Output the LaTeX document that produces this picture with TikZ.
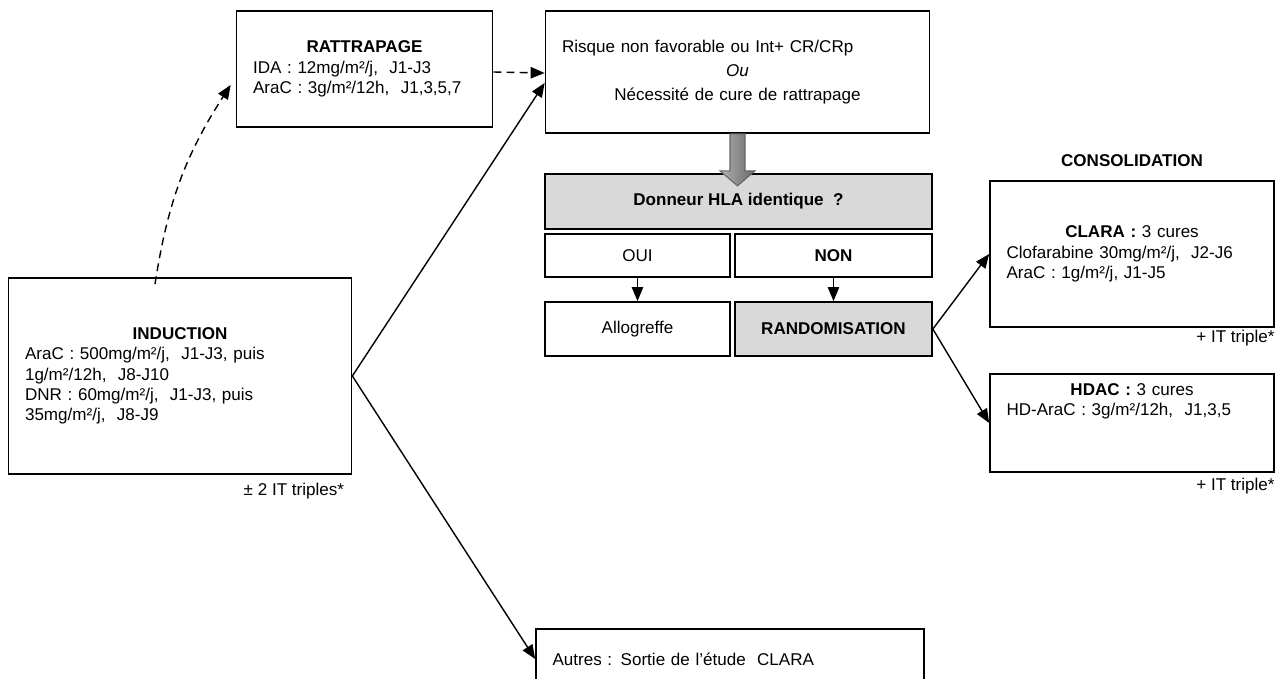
\documentclass[tikz,border=0pt]{standalone}
\usepackage{fontspec}
\setmainfont{Liberation Sans}
\usetikzlibrary{positioning}
\usetikzlibrary{calc}
\usetikzlibrary{arrows.meta}

\tikzset{
  box/.style={draw, line width=1pt, inner sep=0pt, font=\fontsize{9.7}{11.5}\selectfont},
  txtbox/.style={box, align=left, inner xsep=0.33cm},
  greybox/.style={box, fill=black!15},
  note/.style={inner sep=0pt, font=\fontsize{9.7}{11.5}\selectfont},
  arr/.style={line width=0.8pt, -{Triangle[length=8pt,width=6.5pt]}},
  dasharr/.style={arr, dash pattern=on 4.5pt off 3pt},
  blockarr/.style={draw=black!60, line width=0.6pt, left color=black!30, right color=black!60}
}

\begin{document}
\begin{tikzpicture}[x=0.02cm,y=-0.02cm]
    \useasboundingbox (0,0) rectangle (1281,679);
    \clip (0,0) rectangle (1281,679);

    % left column
    \node[txtbox, text width=6.2cm, minimum height=3.92cm] (induction) at (180,376) {%
      \centerline{\bfseries INDUCTION}
      AraC : 500mg/m²/j,\ \ J1-J3, puis\\
      1g/m²/12h,\ \ J8-J10\\
      DNR\ : 60mg/m²/j,\ \ J1-J3, puis\\
      35mg/m²/j,\ \ J8-J9};
    \node[note, anchor=east] (indnote) at ($(induction.south east)+(-8,16)$) {± 2 IT triples*};

    \node[txtbox, text width=4.46cm, minimum height=2.32cm] (rattrapage) at (364.5,69) {%
      \centerline{\bfseries RATTRAPAGE}
      IDA : 12mg/m²/j,\ \ J1-J3\\
      AraC : 3g/m²/12h,\ \ J1,3,5,7};

    % middle column
    \node[txtbox, text width=7.02cm, minimum height=2.44cm,
          font=\fontsize{9.7}{13.6}\selectfont] (risque) at (737.5,72) {%
      Risque non favorable ou Int+ CR/CRp\par
      \centerline{\itshape Ou}
      \centerline{Nécessité de cure de rattrapage}};

    \node[greybox, minimum width=7.74cm, minimum height=1.1cm] (donneur) at (738.5,201.5) {\bfseries Donneur HLA identique\ \ ?};
    \node[box, minimum width=3.7cm, minimum height=0.86cm] (oui) at (637.5,255.5) {OUI};
    \node[box, minimum width=3.94cm, minimum height=0.86cm] (non) at (833.5,255.5) {\bfseries NON};
    \node[box, minimum width=3.7cm, minimum height=1.08cm] (allo) at (637.5,329) {Allogreffe};
    \node[greybox, minimum width=3.94cm, minimum height=1.08cm] (rando) at (833.5,329) {\bfseries RANDOMISATION};

    \node[box, align=left, text width=7.1cm, inner xsep=0.33cm, minimum height=1.2cm] (autres) at (730,659) {Autres : Sortie de l’étude\ \ CLARA};

    % right column
    \node[note, font=\fontsize{9.7}{11.5}\selectfont\bfseries] (conso) at (1132,161) {CONSOLIDATION};

    \node[txtbox, text width=5.02cm, minimum height=2.92cm] (clara) at (1132,254) {%
      \centerline{\bfseries CLARA\ :\mdseries\ 3 cures}
      Clofarabine 30mg/m²/j,\ \ J2-J6\\
      AraC : 1g/m²/j, J1-J5};
    \node[note, anchor=east] (claranote) at ($(clara.south east)+(0,10)$) {+ IT triple*};

    \node[box, minimum width=5.68cm, minimum height=1.96cm] (hdac) at (1132,423) {};
    \node[note, align=left, text width=5.02cm, anchor=north] (hdactxt) at ($(hdac.north)+(0,10)$) {%
      \centerline{\bfseries HDAC\ :\mdseries\ 3 cures}
      HD-AraC : 3g/m²/12h,\ \ J1,3,5};
    \node[note, anchor=east] (hdacnote) at ($(hdac.south east)+(0,13)$) {+ IT triple*};

    % connectors
    \draw[dasharr] ($(induction.north)+(-25,7)$) to[bend left=12] ($(rattrapage.west)+(-5,16)$);
    \draw[dasharr] ($(rattrapage.east)+(0,3)$) -- ($(risque.west)+(0,1)$);
    \draw[arr] (induction.east) -- ($(risque.west)+(0,11)$);
    \draw[arr] (induction.east) -- (autres.west);
    \draw[arr] (oui) -- (allo);
    \draw[arr] (non) -- (rando);
    \draw[arr] (rando.east) -- (clara.west);
    \draw[arr] (rando.east) -- (hdac.west);

    % big grey arrow
    \draw[blockarr] ($(risque.south)+(-7.5,0)$) -- ++(0,37) -- ++(-10,0)
      -- ($(risque.south)+(0,52)$) -- ($(risque.south)+(17.5,37)$)
      -- ++(-10,0) -- ($(risque.south)+(7.5,0)$) -- cycle;
\end{tikzpicture}
\end{document}
